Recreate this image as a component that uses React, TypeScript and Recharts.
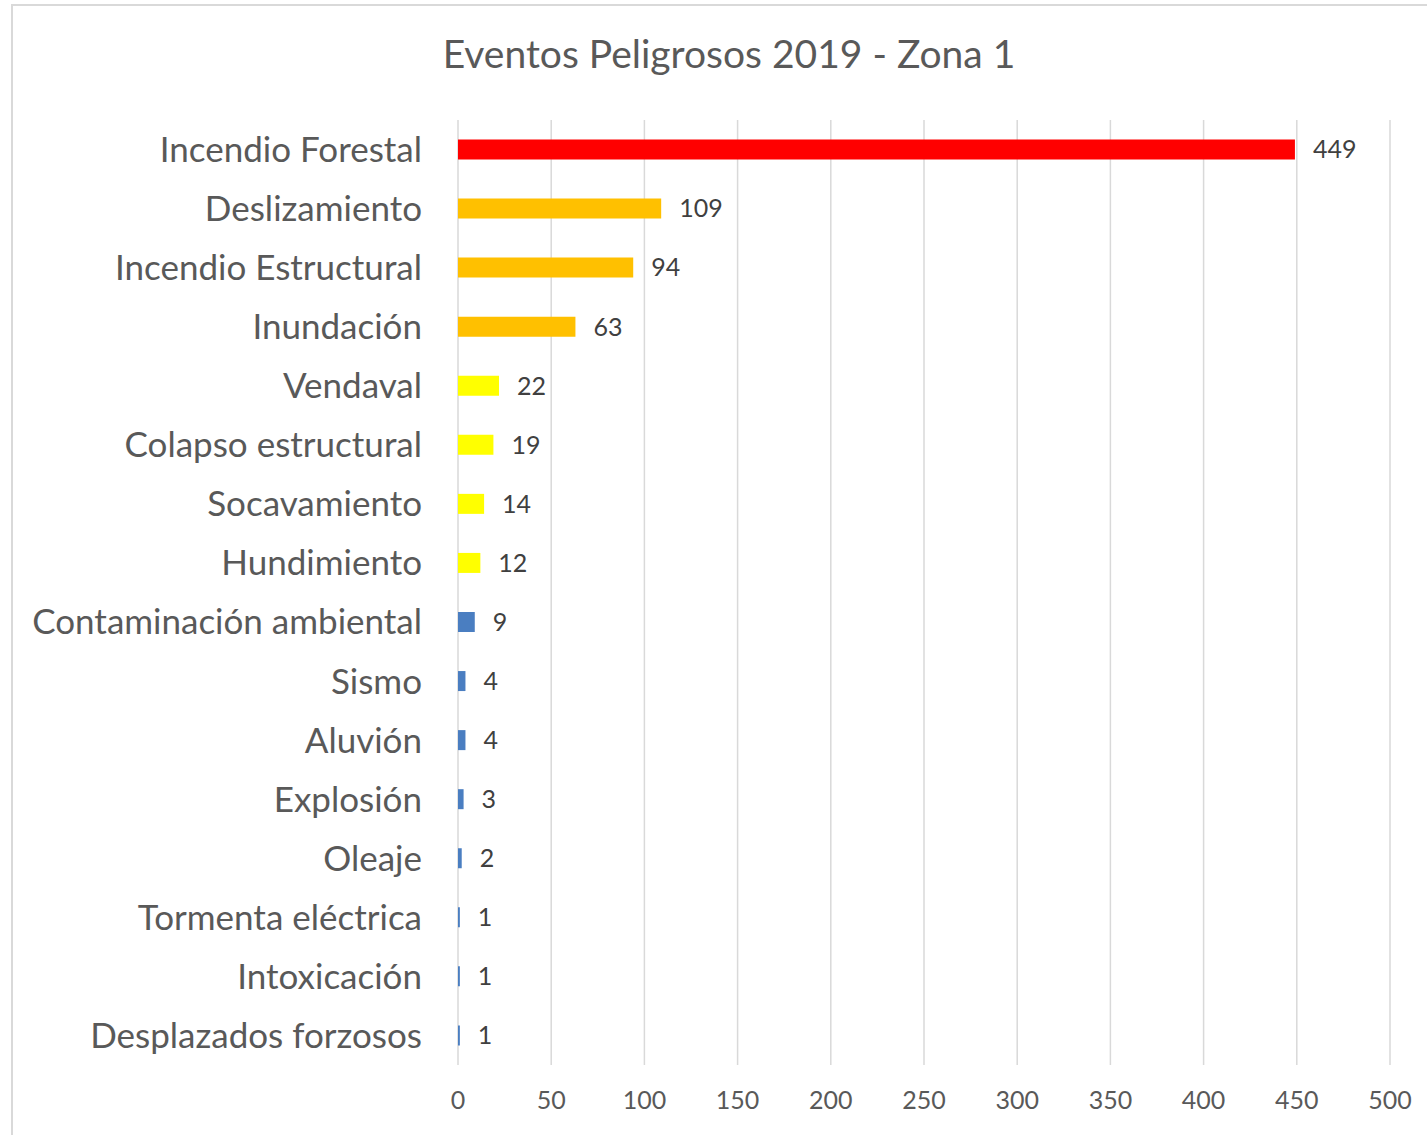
import { Bar, BarChart, CartesianGrid, Cell, LabelList, XAxis, YAxis } from "recharts";

const CATEGORIES = [
  "Incendio Forestal",
  "Deslizamiento",
  "Incendio Estructural",
  "Inundación",
  "Vendaval",
  "Colapso estructural",
  "Socavamiento",
  "Hundimiento",
  "Contaminación ambiental",
  "Sismo",
  "Aluvión",
  "Explosión",
  "Oleaje",
  "Tormenta eléctrica",
  "Intoxicación",
  "Desplazados forzosos",
];

const EVENTS = [449, 109, 94, 63, 22, 19, 14, 12, 9, 4, 4, 3, 2, 1, 1, 1];

const BAR_COLORS = [
  "#FF0000",
  "#FFC000",
  "#FFC000",
  "#FFC000",
  "#FFFF00",
  "#FFFF00",
  "#FFFF00",
  "#FFFF00",
  "#4A7EC1",
  "#4A7EC1",
  "#4A7EC1",
  "#4A7EC1",
  "#4A7EC1",
  "#4A7EC1",
  "#4A7EC1",
  "#4A7EC1",
];

const X_TICKS = [0, 50, 100, 150, 200, 250, 300, 350, 400, 450, 500];

const FONT = "Lato, 'Open Sans', sans-serif";

export default function App() {
  const data = CATEGORIES.map((name, i) => ({
    name,
    value: EVENTS[i],
    fill: BAR_COLORS[i],
  }));

  return (
    <div
      style={{
        position: "absolute",
        left: 0,
        top: 0,
        width: 1427,
        height: 1135,
        overflow: "hidden",
        background: "#fff",
        fontFamily: FONT,
      }}
    >
      <div
        style={{
          position: "absolute",
          left: 11,
          top: 4,
          width: 1440,
          height: 1150,
          border: "2px solid #d9d9d9",
          boxSizing: "border-box",
        }}
      />
      <div
        style={{
          position: "absolute",
          left: 12,
          width: 1434,
          top: 30,
          textAlign: "center",
          fontSize: 39,
          color: "#595959",
        }}
      >
        Eventos Peligrosos 2019 - Zona 1
      </div>
      <div style={{ position: "absolute", left: 0, top: 0 }}>
        <BarChart
          width={1427}
          height={1135}
          data={data}
          layout="vertical"
          barCategoryGap="33%"
          margin={{ top: 120, right: 37, bottom: 0, left: 0 }}
        >
          <CartesianGrid
            horizontal={false}
            stroke="#d9d9d9"
            strokeWidth={1.5}
          />
          <XAxis
            type="number"
            domain={[0, 500]}
            ticks={X_TICKS}
            axisLine={false}
            tickLine={false}
            tickMargin={20}
            height={70}
            tick={{ fontSize: 25, fill: "#595959", fontFamily: FONT }}
          />
          <YAxis
            dataKey="name"
            type="category"
            width={458}
            axisLine={false}
            tickLine={false}
            tickMargin={30}
            interval={0}
            tick={{ fontSize: 35, fill: "#595959", fontFamily: FONT }}
          />
          <Bar dataKey="value" isAnimationActive={false}>
            {data.map((d) => (
              <Cell key={d.name} fill={d.fill} />
            ))}
            <LabelList
              dataKey="value"
              position="right"
              offset={18}
              style={{ fontSize: 25, fill: "#404040", fontFamily: FONT }}
            />
          </Bar>
        </BarChart>
      </div>
    </div>
  );
}
